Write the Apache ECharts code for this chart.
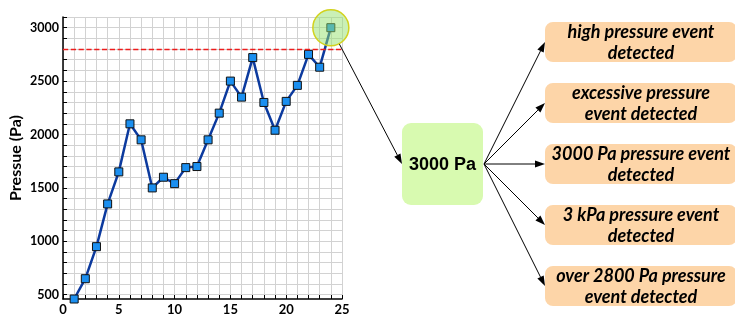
<!DOCTYPE html>
<html lang="en">
<head>
    <meta charset="UTF-8">
    <title>Pressure events</title>
    <script src="https://cdn.jsdelivr.net/npm/echarts@6/dist/echarts.min.js"></script>
    <style>
        html, body { margin: 0; padding: 0; background: #fff; }
        #chart { width: 735px; height: 318px; }
    </style>
</head>
<body>
    <div id="chart"></div>

    <script>
        // data
        const steps = [1, 2, 3, 4, 5, 6, 7, 8, 9, 10, 11, 12, 13, 14, 15, 16, 17, 18, 19, 20, 21, 22, 23, 24];
        const pressure = [460, 650, 950, 1350, 1650, 2100, 1950, 1500, 1600, 1540, 1690, 1700,
                          1950, 2200, 2500, 2350, 2720, 2300, 2040, 2310, 2460, 2750, 2630, 3000];
        const threshold = 2800;
        const yLabels = [500, 1000, 1500, 2000, 2500, 3000];
        const yGrid = [500, 600, 700, 800, 900, 1000, 1100, 1200, 1300, 1400, 1500, 1600, 1700, 1800, 1900,
                       2000, 2100, 2200, 2300, 2400, 2500, 2600, 2700, 2800, 2900, 3000, 3100];
        const xLabels = [0, 5, 10, 15, 20, 25];
        const peakLabel = '3000 Pa';
        const eventLabels = [
            'high pressure event\ndetected',
            'excessive pressure\nevent detected',
            '3000 Pa pressure event\ndetected',
            '3 kPa pressure event\ndetected',
            'over 2800 Pa pressure\nevent detected'
        ];

        const font = 'Lato';
        const chart = echarts.init(document.getElementById('chart'));

        const option = {
            animation: false,
            grid: { left: 63, right: 393, top: 17, bottom: 19 },
            xAxis: {
                type: 'value',
                min: 0, max: 25, interval: 1,
                axisLine: { show: true, onZero: false, lineStyle: { color: '#000', width: 1.5 } },
                axisTick: { show: true, inside: true, length: 4, lineStyle: { color: '#000' } },
                axisLabel: {
                    customValues: xLabels,
                    color: '#000', fontFamily: font, fontWeight: 'bold', fontSize: 13, margin: 4
                },
                splitLine: { show: true, lineStyle: { color: '#d2d2d2', width: 1 } }
            },
            yAxis: {
                type: 'value',
                min: 460, max: 3100,
                name: 'Pressue (Pa)',
                nameLocation: 'middle',
                nameGap: 39,
                nameTextStyle: { color: '#000', fontFamily: font, fontWeight: 'bold', fontSize: 16 },
                axisLine: { show: true, lineStyle: { color: '#000', width: 1.5 } },
                axisTick: { show: true, inside: true, length: 4, customValues: yGrid, lineStyle: { color: '#000' } },
                axisLabel: {
                    customValues: yLabels,
                    formatter: v => String(v),
                    color: '#000', fontFamily: font, fontWeight: 'bold', fontSize: 12.5, margin: 4
                },
                splitLine: { show: true, lineStyle: { color: '#d2d2d2', width: 1 } }
            },
            series: [
                {
                    type: 'line',
                    data: steps.map((s, i) => [s, pressure[i]]),
                    symbol: 'rect',
                    symbolSize: 8,
                    lineStyle: { color: '#0c3a9e', width: 2.5 },
                    itemStyle: { color: '#1b8ff0', borderColor: '#111', borderWidth: 1 },
                    markLine: {
                        silent: true,
                        symbol: 'none',
                        label: { show: false },
                        itemStyle: { color: '#ee1c1c' },
                        lineStyle: { color: '#ee1c1c', type: 'dashed', width: 1.3, opacity: 1 },
                        emphasis: { disabled: true },
                        data: [{ yAxis: threshold, lineStyle: { color: '#ee1c1c', type: 'dashed', width: 1.3 } }]
                    },
                    markPoint: {
                        silent: true,
                        symbol: 'circle',
                        symbolSize: 36,
                        label: { show: false },
                        itemStyle: { color: 'rgba(150, 225, 110, 0.5)', borderColor: '#d2d21e', borderWidth: 1.5 },
                        data: [{ coord: [steps[steps.length - 1], pressure[pressure.length - 1]] }]
                    }
                }
            ]
        };
        chart.setOption(option);

        // arrow = line + filled head
        function arrow(x1, y1, x2, y2) {
            const dx = x2 - x1, dy = y2 - y1;
            const len = Math.sqrt(dx * dx + dy * dy);
            const ux = dx / len, uy = dy / len;
            const hl = 10, hw = 3.5;
            const bx = x2 - ux * hl, by = y2 - uy * hl;
            return [
                { type: 'line', shape: { x1: x1, y1: y1, x2: bx, y2: by }, style: { stroke: '#000', lineWidth: 1 } },
                {
                    type: 'polygon',
                    shape: { points: [[x2, y2], [bx - uy * hw, by + ux * hw], [bx + uy * hw, by - ux * hw]] },
                    style: { fill: '#000' }
                }
            ];
        }

        const peak = chart.convertToPixel({ gridIndex: 0 }, [steps[steps.length - 1], pressure[pressure.length - 1]]);
        const hub = { x: 402, y: 123, w: 81, h: 82 };
        const hubMid = [hub.x, hub.y + hub.h / 2];
        const r = 18;
        const ddx = hubMid[0] - peak[0], ddy = hubMid[1] - peak[1];
        const dl = Math.sqrt(ddx * ddx + ddy * ddy);

        const graphics = [];
        graphics.push(...arrow(peak[0] + ddx / dl * r, peak[1] + ddy / dl * r, hubMid[0], hubMid[1]));
        graphics.push({
            type: 'rect',
            shape: { x: hub.x, y: hub.y, width: hub.w, height: hub.h, r: 9 },
            style: { fill: '#d8fab0' }
        });
        graphics.push({
            type: 'text',
            x: hub.x + hub.w / 2, y: hub.y + hub.h / 2 + 1,
            style: {
                text: peakLabel, fill: '#000', align: 'center', verticalAlign: 'middle',
                font: 'bold 18px "Liberation Sans", Arial, sans-serif'
            }
        });

        const boxX = 545, boxW = 192, boxH = 40, boxTop = 22, boxStep = 61;
        eventLabels.forEach((label, i) => {
            const top = boxTop + i * boxStep;
            graphics.push(...arrow(hub.x + hub.w + 1, hub.y + hub.h / 2, boxX, top + boxH / 2));
            graphics.push({
                type: 'rect',
                shape: { x: boxX, y: top, width: boxW, height: boxH, r: 8 },
                style: { fill: '#fdd5a8' }
            });
            graphics.push({
                type: 'text',
                x: boxX + 96, y: top + boxH / 2 + 1,
                style: {
                    text: label, fill: '#000', align: 'center', verticalAlign: 'middle',
                    font: 'italic bold 18px Lato', lineHeight: 21
                }
            });
        });

        chart.setOption({ graphic: graphics });
    </script>
</body>
</html>
